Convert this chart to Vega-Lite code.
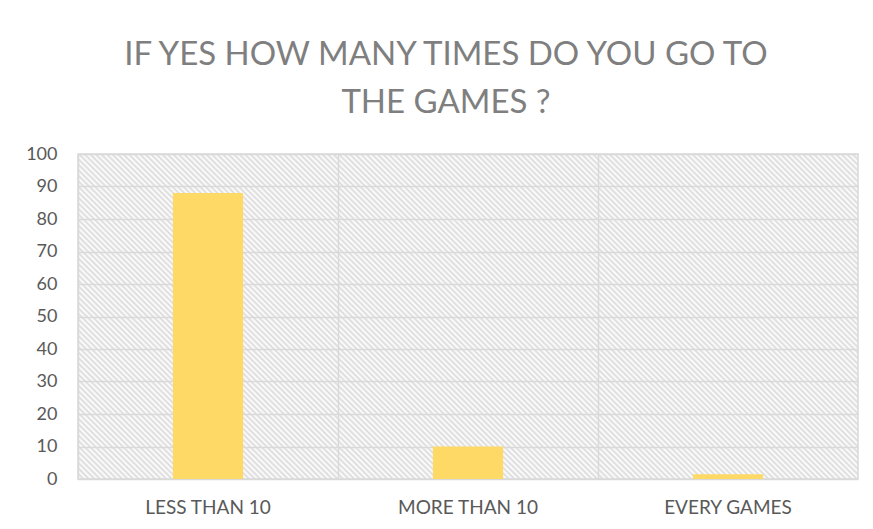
{
  "$schema": "https://vega.github.io/schema/vega-lite/v6.json",
  "width": 780,
  "height": 325,
  "autosize": {"type": "none"},
  "padding": {"left": 78, "top": 154, "right": 15, "bottom": 50},
  "background": "white",
  "title": {
    "text": ["IF YES HOW MANY TIMES DO YOU GO TO", "THE GAMES ?"],
    "font": "Lato",
    "fontSize": 33,
    "fontWeight": 400,
    "color": "#7f7f7f",
    "anchor": "middle",
    "frame": "group",
    "dx": -22,
    "offset": 25,
    "lineHeight": 48
  },
  "data": {
    "values": [
      {"category": "LESS THAN 10", "value": 88},
      {"category": "MORE THAN 10", "value": 10},
      {"category": "EVERY GAMES", "value": 1.5}
    ]
  },
  "view": {
    "stroke": "#d9d9d9",
    "strokeWidth": 1.5,
    "fill": {
      "gradient": "linear",
      "x1": 0, "y1": 1, "x2": 1.207, "y2": 0.497,
      "stops": [
{"offset":0,"color":"#dadada"},{"offset":0.0025,"color":"#fff"},{"offset":0.005,"color":"#dadada"},{"offset":0.0075,"color":"#fff"},
{"offset":0.01,"color":"#dadada"},{"offset":0.0125,"color":"#fff"},{"offset":0.015,"color":"#dadada"},{"offset":0.0175,"color":"#fff"},
{"offset":0.02,"color":"#dadada"},{"offset":0.0225,"color":"#fff"},{"offset":0.025,"color":"#dadada"},{"offset":0.0275,"color":"#fff"},
{"offset":0.03,"color":"#dadada"},{"offset":0.0325,"color":"#fff"},{"offset":0.035,"color":"#dadada"},{"offset":0.0375,"color":"#fff"},
{"offset":0.04,"color":"#dadada"},{"offset":0.0425,"color":"#fff"},{"offset":0.045,"color":"#dadada"},{"offset":0.0475,"color":"#fff"},
{"offset":0.05,"color":"#dadada"},{"offset":0.0525,"color":"#fff"},{"offset":0.055,"color":"#dadada"},{"offset":0.0575,"color":"#fff"},
{"offset":0.06,"color":"#dadada"},{"offset":0.0625,"color":"#fff"},{"offset":0.065,"color":"#dadada"},{"offset":0.0675,"color":"#fff"},
{"offset":0.07,"color":"#dadada"},{"offset":0.0725,"color":"#fff"},{"offset":0.075,"color":"#dadada"},{"offset":0.0775,"color":"#fff"},
{"offset":0.08,"color":"#dadada"},{"offset":0.0825,"color":"#fff"},{"offset":0.085,"color":"#dadada"},{"offset":0.0875,"color":"#fff"},
{"offset":0.09,"color":"#dadada"},{"offset":0.0925,"color":"#fff"},{"offset":0.095,"color":"#dadada"},{"offset":0.0975,"color":"#fff"},
{"offset":0.10,"color":"#dadada"},{"offset":0.1025,"color":"#fff"},{"offset":0.105,"color":"#dadada"},{"offset":0.1075,"color":"#fff"},
{"offset":0.11,"color":"#dadada"},{"offset":0.1125,"color":"#fff"},{"offset":0.115,"color":"#dadada"},{"offset":0.1175,"color":"#fff"},
{"offset":0.12,"color":"#dadada"},{"offset":0.1225,"color":"#fff"},{"offset":0.125,"color":"#dadada"},{"offset":0.1275,"color":"#fff"},
{"offset":0.13,"color":"#dadada"},{"offset":0.1325,"color":"#fff"},{"offset":0.135,"color":"#dadada"},{"offset":0.1375,"color":"#fff"},
{"offset":0.14,"color":"#dadada"},{"offset":0.1425,"color":"#fff"},{"offset":0.145,"color":"#dadada"},{"offset":0.1475,"color":"#fff"},
{"offset":0.15,"color":"#dadada"},{"offset":0.1525,"color":"#fff"},{"offset":0.155,"color":"#dadada"},{"offset":0.1575,"color":"#fff"},
{"offset":0.16,"color":"#dadada"},{"offset":0.1625,"color":"#fff"},{"offset":0.165,"color":"#dadada"},{"offset":0.1675,"color":"#fff"},
{"offset":0.17,"color":"#dadada"},{"offset":0.1725,"color":"#fff"},{"offset":0.175,"color":"#dadada"},{"offset":0.1775,"color":"#fff"},
{"offset":0.18,"color":"#dadada"},{"offset":0.1825,"color":"#fff"},{"offset":0.185,"color":"#dadada"},{"offset":0.1875,"color":"#fff"},
{"offset":0.19,"color":"#dadada"},{"offset":0.1925,"color":"#fff"},{"offset":0.195,"color":"#dadada"},{"offset":0.1975,"color":"#fff"},
{"offset":0.20,"color":"#dadada"},{"offset":0.2025,"color":"#fff"},{"offset":0.205,"color":"#dadada"},{"offset":0.2075,"color":"#fff"},
{"offset":0.21,"color":"#dadada"},{"offset":0.2125,"color":"#fff"},{"offset":0.215,"color":"#dadada"},{"offset":0.2175,"color":"#fff"},
{"offset":0.22,"color":"#dadada"},{"offset":0.2225,"color":"#fff"},{"offset":0.225,"color":"#dadada"},{"offset":0.2275,"color":"#fff"},
{"offset":0.23,"color":"#dadada"},{"offset":0.2325,"color":"#fff"},{"offset":0.235,"color":"#dadada"},{"offset":0.2375,"color":"#fff"},
{"offset":0.24,"color":"#dadada"},{"offset":0.2425,"color":"#fff"},{"offset":0.245,"color":"#dadada"},{"offset":0.2475,"color":"#fff"},
{"offset":0.25,"color":"#dadada"},{"offset":0.2525,"color":"#fff"},{"offset":0.255,"color":"#dadada"},{"offset":0.2575,"color":"#fff"},
{"offset":0.26,"color":"#dadada"},{"offset":0.2625,"color":"#fff"},{"offset":0.265,"color":"#dadada"},{"offset":0.2675,"color":"#fff"},
{"offset":0.27,"color":"#dadada"},{"offset":0.2725,"color":"#fff"},{"offset":0.275,"color":"#dadada"},{"offset":0.2775,"color":"#fff"},
{"offset":0.28,"color":"#dadada"},{"offset":0.2825,"color":"#fff"},{"offset":0.285,"color":"#dadada"},{"offset":0.2875,"color":"#fff"},
{"offset":0.29,"color":"#dadada"},{"offset":0.2925,"color":"#fff"},{"offset":0.295,"color":"#dadada"},{"offset":0.2975,"color":"#fff"},
{"offset":0.30,"color":"#dadada"},{"offset":0.3025,"color":"#fff"},{"offset":0.305,"color":"#dadada"},{"offset":0.3075,"color":"#fff"},
{"offset":0.31,"color":"#dadada"},{"offset":0.3125,"color":"#fff"},{"offset":0.315,"color":"#dadada"},{"offset":0.3175,"color":"#fff"},
{"offset":0.32,"color":"#dadada"},{"offset":0.3225,"color":"#fff"},{"offset":0.325,"color":"#dadada"},{"offset":0.3275,"color":"#fff"},
{"offset":0.33,"color":"#dadada"},{"offset":0.3325,"color":"#fff"},{"offset":0.335,"color":"#dadada"},{"offset":0.3375,"color":"#fff"},
{"offset":0.34,"color":"#dadada"},{"offset":0.3425,"color":"#fff"},{"offset":0.345,"color":"#dadada"},{"offset":0.3475,"color":"#fff"},
{"offset":0.35,"color":"#dadada"},{"offset":0.3525,"color":"#fff"},{"offset":0.355,"color":"#dadada"},{"offset":0.3575,"color":"#fff"},
{"offset":0.36,"color":"#dadada"},{"offset":0.3625,"color":"#fff"},{"offset":0.365,"color":"#dadada"},{"offset":0.3675,"color":"#fff"},
{"offset":0.37,"color":"#dadada"},{"offset":0.3725,"color":"#fff"},{"offset":0.375,"color":"#dadada"},{"offset":0.3775,"color":"#fff"},
{"offset":0.38,"color":"#dadada"},{"offset":0.3825,"color":"#fff"},{"offset":0.385,"color":"#dadada"},{"offset":0.3875,"color":"#fff"},
{"offset":0.39,"color":"#dadada"},{"offset":0.3925,"color":"#fff"},{"offset":0.395,"color":"#dadada"},{"offset":0.3975,"color":"#fff"},
{"offset":0.40,"color":"#dadada"},{"offset":0.4025,"color":"#fff"},{"offset":0.405,"color":"#dadada"},{"offset":0.4075,"color":"#fff"},
{"offset":0.41,"color":"#dadada"},{"offset":0.4125,"color":"#fff"},{"offset":0.415,"color":"#dadada"},{"offset":0.4175,"color":"#fff"},
{"offset":0.42,"color":"#dadada"},{"offset":0.4225,"color":"#fff"},{"offset":0.425,"color":"#dadada"},{"offset":0.4275,"color":"#fff"},
{"offset":0.43,"color":"#dadada"},{"offset":0.4325,"color":"#fff"},{"offset":0.435,"color":"#dadada"},{"offset":0.4375,"color":"#fff"},
{"offset":0.44,"color":"#dadada"},{"offset":0.4425,"color":"#fff"},{"offset":0.445,"color":"#dadada"},{"offset":0.4475,"color":"#fff"},
{"offset":0.45,"color":"#dadada"},{"offset":0.4525,"color":"#fff"},{"offset":0.455,"color":"#dadada"},{"offset":0.4575,"color":"#fff"},
{"offset":0.46,"color":"#dadada"},{"offset":0.4625,"color":"#fff"},{"offset":0.465,"color":"#dadada"},{"offset":0.4675,"color":"#fff"},
{"offset":0.47,"color":"#dadada"},{"offset":0.4725,"color":"#fff"},{"offset":0.475,"color":"#dadada"},{"offset":0.4775,"color":"#fff"},
{"offset":0.48,"color":"#dadada"},{"offset":0.4825,"color":"#fff"},{"offset":0.485,"color":"#dadada"},{"offset":0.4875,"color":"#fff"},
{"offset":0.49,"color":"#dadada"},{"offset":0.4925,"color":"#fff"},{"offset":0.495,"color":"#dadada"},{"offset":0.4975,"color":"#fff"},
{"offset":0.50,"color":"#dadada"},{"offset":0.5025,"color":"#fff"},{"offset":0.505,"color":"#dadada"},{"offset":0.5075,"color":"#fff"},
{"offset":0.51,"color":"#dadada"},{"offset":0.5125,"color":"#fff"},{"offset":0.515,"color":"#dadada"},{"offset":0.5175,"color":"#fff"},
{"offset":0.52,"color":"#dadada"},{"offset":0.5225,"color":"#fff"},{"offset":0.525,"color":"#dadada"},{"offset":0.5275,"color":"#fff"},
{"offset":0.53,"color":"#dadada"},{"offset":0.5325,"color":"#fff"},{"offset":0.535,"color":"#dadada"},{"offset":0.5375,"color":"#fff"},
{"offset":0.54,"color":"#dadada"},{"offset":0.5425,"color":"#fff"},{"offset":0.545,"color":"#dadada"},{"offset":0.5475,"color":"#fff"},
{"offset":0.55,"color":"#dadada"},{"offset":0.5525,"color":"#fff"},{"offset":0.555,"color":"#dadada"},{"offset":0.5575,"color":"#fff"},
{"offset":0.56,"color":"#dadada"},{"offset":0.5625,"color":"#fff"},{"offset":0.565,"color":"#dadada"},{"offset":0.5675,"color":"#fff"},
{"offset":0.57,"color":"#dadada"},{"offset":0.5725,"color":"#fff"},{"offset":0.575,"color":"#dadada"},{"offset":0.5775,"color":"#fff"},
{"offset":0.58,"color":"#dadada"},{"offset":0.5825,"color":"#fff"},{"offset":0.585,"color":"#dadada"},{"offset":0.5875,"color":"#fff"},
{"offset":0.59,"color":"#dadada"},{"offset":0.5925,"color":"#fff"},{"offset":0.595,"color":"#dadada"},{"offset":0.5975,"color":"#fff"},
{"offset":0.60,"color":"#dadada"},{"offset":0.6025,"color":"#fff"},{"offset":0.605,"color":"#dadada"},{"offset":0.6075,"color":"#fff"},
{"offset":0.61,"color":"#dadada"},{"offset":0.6125,"color":"#fff"},{"offset":0.615,"color":"#dadada"},{"offset":0.6175,"color":"#fff"},
{"offset":0.62,"color":"#dadada"},{"offset":0.6225,"color":"#fff"},{"offset":0.625,"color":"#dadada"},{"offset":0.6275,"color":"#fff"},
{"offset":0.63,"color":"#dadada"},{"offset":0.6325,"color":"#fff"},{"offset":0.635,"color":"#dadada"},{"offset":0.6375,"color":"#fff"},
{"offset":0.64,"color":"#dadada"},{"offset":0.6425,"color":"#fff"},{"offset":0.645,"color":"#dadada"},{"offset":0.6475,"color":"#fff"},
{"offset":0.65,"color":"#dadada"},{"offset":0.6525,"color":"#fff"},{"offset":0.655,"color":"#dadada"},{"offset":0.6575,"color":"#fff"},
{"offset":0.66,"color":"#dadada"},{"offset":0.6625,"color":"#fff"},{"offset":0.665,"color":"#dadada"},{"offset":0.6675,"color":"#fff"},
{"offset":0.67,"color":"#dadada"},{"offset":0.6725,"color":"#fff"},{"offset":0.675,"color":"#dadada"},{"offset":0.6775,"color":"#fff"},
{"offset":0.68,"color":"#dadada"},{"offset":0.6825,"color":"#fff"},{"offset":0.685,"color":"#dadada"},{"offset":0.6875,"color":"#fff"},
{"offset":0.69,"color":"#dadada"},{"offset":0.6925,"color":"#fff"},{"offset":0.695,"color":"#dadada"},{"offset":0.6975,"color":"#fff"},
{"offset":0.70,"color":"#dadada"},{"offset":0.7025,"color":"#fff"},{"offset":0.705,"color":"#dadada"},{"offset":0.7075,"color":"#fff"},
{"offset":0.71,"color":"#dadada"},{"offset":0.7125,"color":"#fff"},{"offset":0.715,"color":"#dadada"},{"offset":0.7175,"color":"#fff"},
{"offset":0.72,"color":"#dadada"},{"offset":0.7225,"color":"#fff"},{"offset":0.725,"color":"#dadada"},{"offset":0.7275,"color":"#fff"},
{"offset":0.73,"color":"#dadada"},{"offset":0.7325,"color":"#fff"},{"offset":0.735,"color":"#dadada"},{"offset":0.7375,"color":"#fff"},
{"offset":0.74,"color":"#dadada"},{"offset":0.7425,"color":"#fff"},{"offset":0.745,"color":"#dadada"},{"offset":0.7475,"color":"#fff"},
{"offset":0.75,"color":"#dadada"},{"offset":0.7525,"color":"#fff"},{"offset":0.755,"color":"#dadada"},{"offset":0.7575,"color":"#fff"},
{"offset":0.76,"color":"#dadada"},{"offset":0.7625,"color":"#fff"},{"offset":0.765,"color":"#dadada"},{"offset":0.7675,"color":"#fff"},
{"offset":0.77,"color":"#dadada"},{"offset":0.7725,"color":"#fff"},{"offset":0.775,"color":"#dadada"},{"offset":0.7775,"color":"#fff"},
{"offset":0.78,"color":"#dadada"},{"offset":0.7825,"color":"#fff"},{"offset":0.785,"color":"#dadada"},{"offset":0.7875,"color":"#fff"},
{"offset":0.79,"color":"#dadada"},{"offset":0.7925,"color":"#fff"},{"offset":0.795,"color":"#dadada"},{"offset":0.7975,"color":"#fff"},
{"offset":0.80,"color":"#dadada"},{"offset":0.8025,"color":"#fff"},{"offset":0.805,"color":"#dadada"},{"offset":0.8075,"color":"#fff"},
{"offset":0.81,"color":"#dadada"},{"offset":0.8125,"color":"#fff"},{"offset":0.815,"color":"#dadada"},{"offset":0.8175,"color":"#fff"},
{"offset":0.82,"color":"#dadada"},{"offset":0.8225,"color":"#fff"},{"offset":0.825,"color":"#dadada"},{"offset":0.8275,"color":"#fff"},
{"offset":0.83,"color":"#dadada"},{"offset":0.8325,"color":"#fff"},{"offset":0.835,"color":"#dadada"},{"offset":0.8375,"color":"#fff"},
{"offset":0.84,"color":"#dadada"},{"offset":0.8425,"color":"#fff"},{"offset":0.845,"color":"#dadada"},{"offset":0.8475,"color":"#fff"},
{"offset":0.85,"color":"#dadada"},{"offset":0.8525,"color":"#fff"},{"offset":0.855,"color":"#dadada"},{"offset":0.8575,"color":"#fff"},
{"offset":0.86,"color":"#dadada"},{"offset":0.8625,"color":"#fff"},{"offset":0.865,"color":"#dadada"},{"offset":0.8675,"color":"#fff"},
{"offset":0.87,"color":"#dadada"},{"offset":0.8725,"color":"#fff"},{"offset":0.875,"color":"#dadada"},{"offset":0.8775,"color":"#fff"},
{"offset":0.88,"color":"#dadada"},{"offset":0.8825,"color":"#fff"},{"offset":0.885,"color":"#dadada"},{"offset":0.8875,"color":"#fff"},
{"offset":0.89,"color":"#dadada"},{"offset":0.8925,"color":"#fff"},{"offset":0.895,"color":"#dadada"},{"offset":0.8975,"color":"#fff"},
{"offset":0.90,"color":"#dadada"},{"offset":0.9025,"color":"#fff"},{"offset":0.905,"color":"#dadada"},{"offset":0.9075,"color":"#fff"},
{"offset":0.91,"color":"#dadada"},{"offset":0.9125,"color":"#fff"},{"offset":0.915,"color":"#dadada"},{"offset":0.9175,"color":"#fff"},
{"offset":0.92,"color":"#dadada"},{"offset":0.9225,"color":"#fff"},{"offset":0.925,"color":"#dadada"},{"offset":0.9275,"color":"#fff"},
{"offset":0.93,"color":"#dadada"},{"offset":0.9325,"color":"#fff"},{"offset":0.935,"color":"#dadada"},{"offset":0.9375,"color":"#fff"},
{"offset":0.94,"color":"#dadada"},{"offset":0.9425,"color":"#fff"},{"offset":0.945,"color":"#dadada"},{"offset":0.9475,"color":"#fff"},
{"offset":0.95,"color":"#dadada"},{"offset":0.9525,"color":"#fff"},{"offset":0.955,"color":"#dadada"},{"offset":0.9575,"color":"#fff"},
{"offset":0.96,"color":"#dadada"},{"offset":0.9625,"color":"#fff"},{"offset":0.965,"color":"#dadada"},{"offset":0.9675,"color":"#fff"},
{"offset":0.97,"color":"#dadada"},{"offset":0.9725,"color":"#fff"},{"offset":0.975,"color":"#dadada"},{"offset":0.9775,"color":"#fff"},
{"offset":0.98,"color":"#dadada"},{"offset":0.9825,"color":"#fff"},{"offset":0.985,"color":"#dadada"},{"offset":0.9875,"color":"#fff"},
{"offset":0.99,"color":"#dadada"},{"offset":0.9925,"color":"#fff"},{"offset":0.995,"color":"#dadada"},{"offset":0.9975,"color":"#fff"},
{"offset":1,"color":"#dadada"}
      ]
    }
  },
  "mark": {"type": "bar", "color": "#FFD966", "width": {"band": 0.27}},
  "encoding": {
    "x": {
      "field": "category",
      "type": "nominal",
      "sort": null,
      "title": null,
      "scale": {"paddingInner": 0, "paddingOuter": 0},
      "axis": {
        "labelAngle": 0,
        "labelFont": "Lato",
        "labelFontSize": 19,
        "labelColor": "#595959",
        "labelPadding": 19,
        "ticks": false,
        "tickSize": 0,
        "domain": false,
        "grid": true,
        "bandPosition": 0,
        "gridColor": "#d9d9d9",
        "gridWidth": 1.5
      }
    },
    "y": {
      "field": "value",
      "type": "quantitative",
      "title": null,
      "scale": {"domain": [0, 100], "nice": false},
      "axis": {
        "values": [0, 10, 20, 30, 40, 50, 60, 70, 80, 90, 100],
        "labelFont": "Lato",
        "labelFontSize": 18,
        "labelColor": "#595959",
        "labelPadding": 21,
        "ticks": false,
        "tickSize": 0,
        "domain": false,
        "grid": true,
        "gridColor": "#d9d9d9",
        "gridWidth": 1.5
      }
    }
  }
}
